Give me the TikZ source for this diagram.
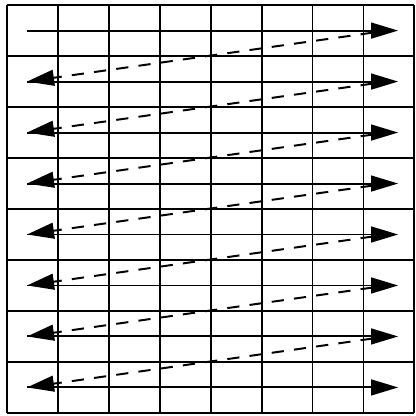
\documentclass[tikz,border=0pt]{standalone}
\usepackage{tikz}
\usetikzlibrary{arrows.meta}

\tikzset{
  gridline/.style={line width=1.1pt},
  rowarrow/.style={line width=1.1pt, -{Triangle[length=0.53cm, width=0.31cm]}},
  backarrow/.style={line width=1.1pt, dash pattern=on 0.24cm off 0.2cm, -{Triangle[length=0.53cm, width=0.31cm]}}
}

\begin{document}
\begin{tikzpicture}
  \useasboundingbox (-0.13, -0.06) rectangle (8.03, 8.1);

  % Grid of 8 x 8 cells
  \draw[gridline] (0, 0) grid (8, 8);

  % Row end points
  \foreach \i in {1,...,8} {
    \coordinate (left\i) at (0.40, 8.5-\i);
    \coordinate (right\i) at (7.68, 8.5-\i);
    \coordinate (back\i) at (7.18, 8.46-\i);
  }

  % Scan rows left to right
  \foreach \i in {1,...,8} {
    \draw[rowarrow] (left\i) -- (right\i);
  }

  % Return to the start of the next row
  \foreach \i [evaluate=\i as \j using int(\i+1)] in {1,...,7} {
    \draw[backarrow] (back\i) -- (left\j);
  }
\end{tikzpicture}
\end{document}
